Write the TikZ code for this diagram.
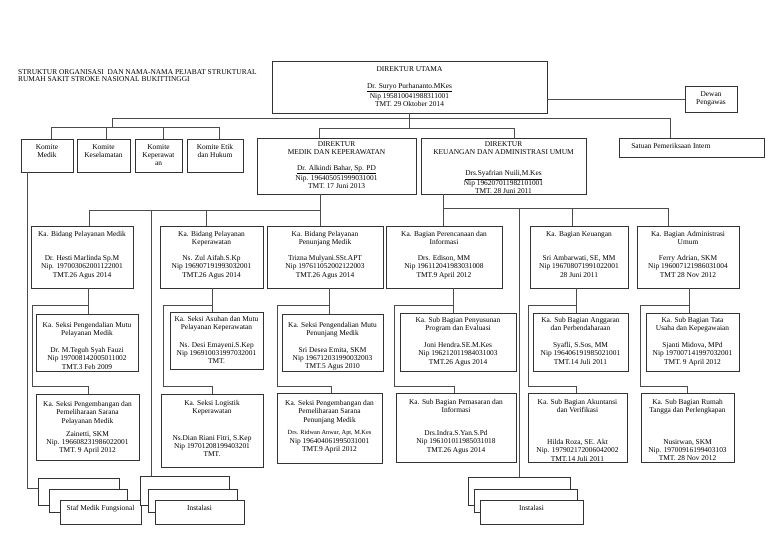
\documentclass[tikz,border=0pt]{standalone}
\usepackage{fontspec}
\setmainfont{Liberation Serif}
\tikzset{
  box/.style={draw=black!80, line width=0.7pt, fill=white, inner sep=0pt, outer sep=0pt},
  ln/.style={draw=black!70, line width=0.7pt},
  tt/.style={font=\fontsize{7.4}{8.2}\selectfont, align=center, inner sep=0pt, anchor=north, yshift=2.7pt},
}
\newcommand{\ebox}[5]{\node[box, minimum width={(#4-#2)*1pt}, minimum height={(#5-#3)*1pt}] (#1) at ({(#2+#4)/2},{(#3+#5)/2}) {};}
\newcommand{\tx}[4]{\node[tt] (#1) at (#2.center |- 0,#3) {#4};}
\newcommand{\colcon}[4]{%
  \coordinate (c#1a) at (#2,305); \coordinate (c#1b) at (#3,305);
  \coordinate (c#1c) at (#3,386); \coordinate (c#1d) at (#4,386);
  \draw[ln] (c#1a |- R1#1.south) -- (c#1a |- R2#1.north);
  \draw[ln] (c#1a) -- (c#1b) -- (c#1c) -- (c#1d) -- (c#1d |- R3#1.north);}
\begin{document}
\begin{tikzpicture}[x=1pt,y=-1pt]
\useasboundingbox (0,0) rectangle (768,543);

% title
\node[font=\fontsize{7.4}{7.6}\selectfont, align=left, anchor=north west, inner sep=0pt] (title) at (18,69.3)
  {STRUKTUR ORGANISASI\ \ DAN NAMA-NAMA PEJABAT STRUKTURAL\\RUMAH SAKIT STROKE NASIONAL BUKITTINGGI};

% top level
\ebox{DU}{272}{61}{547}{113}
\tx{DUt}{DU}{69}{DIREKTUR UTAMA}
\tx{DUd}{DU}{86}{\underline{Dr. Suryo Purhananto.MKes}\\Nip 195810041988311001\\TMT. 29 Oktober 2014}
\ebox{DP}{685}{86}{737}{112}
\tx{DPt}{DP}{94}{Dewan\\Pengawas}
\ebox{SPI}{619}{138}{764}{157}
\node[tt] (SPIt) at (671,146) {Satuan Pemeriksaan Intern};

% komite
\ebox{KM}{21}{139}{73}{172}
\ebox{KK}{77}{139}{130}{172}
\ebox{KP}{135}{139}{182}{172}
\ebox{KE}{187}{139}{243}{172}
\tx{KMt}{KM}{147}{Komite\\Medik}
\tx{KKt}{KK}{147}{Komite\\Keselamatan}
\tx{KPt}{KP}{147}{Komite\\Keperawat\\an}
\tx{KEt}{KE}{147}{Komite Etik\\dan Hukum}

% direktur
\ebox{DM}{257}{138}{416}{194}
\tx{DMt}{DM}{144}{DIREKTUR\\MEDIK DAN KEPERAWATAN}
\tx{DMd}{DM}{168}{\underline{Dr. Alkindi Bahar, Sp. PD}\\Nip. 196405051999031001\\TMT. 17 Juni 2013}
\ebox{DK}{421}{138}{586}{194}
\tx{DKt}{DK}{144}{DIREKTUR\\KEUANGAN DAN ADMINISTRASI UMUM}
\tx{DKd}{DK}{173}{\underline{Drs.Syafrian Nuili,M.Kes}\\Nip 196207011982101001\\TMT. 28 Juni 2011}

% row 1
\ebox{R1A}{31}{226}{133}{288}
\ebox{R1B}{160}{226}{263}{288}
\ebox{R1C}{267}{226}{383}{288}
\ebox{R1D}{386}{226}{502}{288}
\ebox{R1E}{530}{226}{628}{288}
\ebox{R1F}{637}{226}{739}{288}
\tx{R1At}{R1A}{234}{Ka. Bidang Pelayanan Medik}
\tx{R1Ad}{R1A}{258}{Dr. Hesti Marlinda Sp.M\\Nip. 197003062001122001\\TMT.26 Agus 2014}
\tx{R1Bt}{R1B}{234}{Ka. Bidang Pelayanan\\Keperawatan}
\tx{R1Bd}{R1B}{258}{Ns. Zul Aifah.S.Kp\\Nip 196907191993032001\\TMT.26 Agus 2014}
\tx{R1Ct}{R1C}{234}{Ka. Bidang Pelayanan\\Penunjang Medik}
\tx{R1Cd}{R1C}{258}{Trizna Mulyani.SSt.APT\\Nip 197611052002122003\\TMT.26 Agus 2014}
\tx{R1Dt}{R1D}{234}{Ka. Bagian Perencanaan dan\\Informasi}
\tx{R1Dd}{R1D}{258}{Drs. Edison, MM\\Nip 196112041983031008\\TMT.9 April 2012}
\tx{R1Et}{R1E}{234}{Ka. Bagian Keuangan}
\tx{R1Ed}{R1E}{258}{Sri Ambarwati, SE, MM\\Nip 196708071991022001\\28 Juni 2011}
\tx{R1Ft}{R1F}{234}{Ka. Bagian Administrasi\\Umum}
\tx{R1Fd}{R1F}{258}{Ferry Adrian, SKM\\Nip 196007121986031004\\TMT 28 Nov 2012}

% row 2
\ebox{R2A}{36}{314}{138}{371}
\ebox{R2B}{170}{312}{263}{369}
\ebox{R2C}{282}{314}{383}{371}
\ebox{R2D}{400}{313}{516}{371}
\ebox{R2E}{533}{313}{628}{371}
\ebox{R2F}{646}{313}{739}{371}
\tx{R2At}{R2A}{325}{Ka. Seksi Pengendalian Mutu\\Pelayanan Medik}
\tx{R2Ad}{R2A}{350}{Dr. M.Teguh Syah Fauzi\\Nip 197008142005011002\\TMT.3 Feb 2009}
\tx{R2Bt}{R2B}{319}{Ka. Seksi Asuhan dan Mutu\\Pelayanan Keperawatan}
\tx{R2Bd}{R2B}{345}{Ns. Desi Emayeni.S.Kep\\Nip 196910031997032001\\TMT.}
\tx{R2Ct}{R2C}{325}{Ka. Seksi Pengendalian Mutu\\Penunjang Medik}
\tx{R2Cd}{R2C}{350}{Sri Desea Emita, SKM\\Nip 196712031990032003\\TMT.5 Agus 2010}
\tx{R2Dt}{R2D}{320}{Ka. Sub Bagian Penyusunan\\Program dan Evaluasi}
\tx{R2Dd}{R2D}{345}{Joni Hendra.SE.M.Kes\\Nip 196212011984031003\\TMT.26 Agus 2014}
\tx{R2Et}{R2E}{320}{Ka. Sub Bagian Anggaran\\dan Perbendaharaan}
\tx{R2Ed}{R2E}{345}{Syafli, S.Sos, MM\\Nip 196406191985021001\\TMT.14 Juli 2011}
\tx{R2Ft}{R2F}{320}{Ka. Sub Bagian Tata\\Usaha dan Kepegawaian}
\tx{R2Fd}{R2F}{345}{Sjanti Midova, MPd\\Nip 197007141997032001\\TMT. 9 April 2012}

% row 3
\ebox{R3A}{36}{394}{139}{460}
\ebox{R3B}{161}{394}{263}{467}
\ebox{R3C}{277}{393}{382}{463}
\ebox{R3D}{396}{393}{516}{462}
\ebox{R3E}{528}{393}{627}{462}
\ebox{R3F}{641}{393}{734}{462}
\tx{R3At}{R3A}{404}{Ka. Seksi Pengembangan dan\\Pemeliharaan Sarana\\Pelayanan Medik}
\tx{R3Ad}{R3A}{434}{Zainetti, SKM\\Nip. 196608231986022001\\TMT. 9 April 2012}
\tx{R3Bt}{R3B}{403}{Ka. Seksi Logistik\\Keperawatan}
\tx{R3Bd}{R3B}{438}{Ns.Dian Riani Fitri, S.Kep\\Nip 19701208199403201\\TMT.}
\tx{R3Ct}{R3C}{403}{Ka. Seksi Pengembangan dan\\Pemeliharaan Sarana\\Penunjang Medik}
\tx{R3Cd}{R3C}{433}{{\fontsize{6.3}{8.2}\selectfont Drs. Ridwan Anwar, Apt, M.Kes}\\Nip 196404061995031001\\TMT.9 April 2012}
\tx{R3Dt}{R3D}{402}{Ka. Sub Bagian Pemasaran dan\\Informasi}
\tx{R3Dd}{R3D}{433}{Drs.Indra.S.Yan.S.Pd\\Nip 196101011985031018\\TMT.26 Agus 2014}
\tx{R3Et}{R3E}{402}{Ka. Sub Bagian Akuntansi\\dan Verifikasi}
\tx{R3Ed}{R3E}{442}{Hilda Roza, SE. Akt\\Nip. 197902172006042002\\TMT.14 Juli 2011}
\tx{R3Ft}{R3F}{402}{Ka. Sub Bagian Rumah\\Tangga dan Perlengkapan}
\tx{R3Fd}{R3F}{442}{Nusirwan, SKM\\Nip. 19700916199403103\\TMT. 28 Nov 2012}

% stacks
\ebox{SB1}{38}{478}{119}{505}
\ebox{SB2}{49}{489}{127}{512}
\ebox{SB3}{60}{500}{141}{524}
\tx{SB3t}{SB3}{508}{Staf Medik Fungsional}
\ebox{IL1}{140}{476}{229}{505}
\ebox{IL2}{148}{489}{237}{512}
\ebox{IL3}{155}{500}{244}{524}
\tx{IL3t}{IL3}{508}{Instalasi}
\ebox{IR1}{468}{477}{570}{505}
\ebox{IR2}{474}{489}{577}{512}
\ebox{IR3}{480}{500}{583}{524}
\tx{IR3t}{IR3}{508}{Instalasi}

% connectors: top
\draw[ln] (DU.east |- DP.west) -- (DP.west);
\coordinate (hL) at (112,118);
\coordinate (hR) at (670,118);
\coordinate (jD) at (409.5,128);
\draw[ln] (DU.south) -- (jD);
\draw[ln] (hL) -- (hR) -- (hR |- SPI.north);
\coordinate (k1) at (51,127);
\coordinate (k2) at (106,127);
\coordinate (k3) at (163,127);
\coordinate (k4) at (219,127);
\draw[ln] (hL) -- (hL |- k1);
\draw[ln] (k1) -- (k4);
\draw[ln] (k1) -- (k1 |- KM.north);
\draw[ln] (k2) -- (k2 |- KK.north);
\draw[ln] (k3) -- (k3 |- KP.north);
\draw[ln] (k4) -- (k4 |- KE.north);
\coordinate (dL) at (319,128);
\coordinate (dR) at (514,128);
\draw[ln] (dL) -- (dR);
\draw[ln] (dL) -- (dL |- DM.north);
\draw[ln] (dR) -- (dR |- DK.north);

% komite medik to staf medik fungsional
\coordinate (sm) at (27,488);
\draw[ln] (sm |- KM.south) -- (sm) -- (SB1.west |- sm);

% row 1 left
\coordinate (m1) at (320,210);
\coordinate (r1a) at (89,210);
\coordinate (lg1) at (151,210);
\coordinate (r1b) at (206,210);
\draw[ln] (m1 |- DM.south) -- (m1) -- (r1a);
\draw[ln] (r1a) -- (r1a |- R1A.north);
\draw[ln] (r1b) -- (r1b |- R1B.north);
\draw[ln] (m1) -- (m1 |- R1C.north);
\draw[ln] (lg1) -- (lg1 |- IL1.north);

% row 1 right
\coordinate (m2) at (443,208);
\coordinate (lg2) at (519,208);
\coordinate (r1e) at (572,208);
\coordinate (r1f) at (668,208);
\draw[ln] (m2 |- DK.south) -- (m2) -- (r1f);
\draw[ln] (m2) -- (m2 |- R1D.north);
\draw[ln] (r1e) -- (r1e |- R1E.north);
\draw[ln] (r1f) -- (r1f |- R1F.north);
\draw[ln] (lg2) -- (lg2 |- IR1.north);

% columns
\colcon{A}{88}{32}{88}
\colcon{B}{212}{163}{212}
\colcon{C}{329}{277}{331}
\colcon{D}{453}{394}{454}
\colcon{E}{576}{528}{576}
\colcon{F}{689}{640}{687}
\end{tikzpicture}
\end{document}
